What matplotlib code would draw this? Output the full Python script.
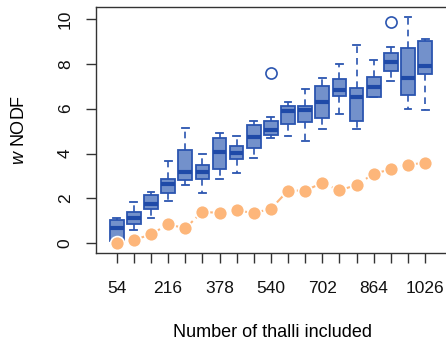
import matplotlib
matplotlib.use("Agg")
import matplotlib.pyplot as plt
import numpy as np

# ---- data ----
n_thalli = [54 * i for i in range(1, 20)]
tick_labels_shown = ["54", "216", "378", "540", "702", "864", "1026"]

whisk_lo = [0.08, 0.59, 1.13, 1.89, 2.59, 2.26, 2.88, 3.15, 3.80, 4.68, 4.78, 4.56, 5.10, 5.78, 5.10, 6.50, 7.25, 5.99, 5.96]
q1       = [0.12, 0.87, 1.54, 2.24, 2.81, 2.88, 3.31, 3.77, 4.24, 4.83, 5.33, 5.41, 5.59, 6.57, 5.47, 6.52, 7.70, 6.63, 7.56]
median   = [0.67, 1.11, 1.75, 2.63, 3.17, 3.18, 4.07, 4.01, 4.74, 5.05, 5.88, 5.94, 6.29, 6.82, 6.54, 6.97, 8.10, 7.38, 7.90]
q3       = [1.02, 1.38, 2.17, 2.87, 4.15, 3.51, 4.68, 4.35, 5.27, 5.44, 6.12, 6.13, 7.03, 7.31, 6.91, 7.43, 8.50, 8.71, 9.00]
whisk_hi = [1.14, 1.85, 2.27, 3.68, 5.14, 4.00, 4.93, 4.78, 5.45, 5.62, 6.31, 6.88, 7.37, 7.99, 8.83, 8.17, 8.74, 10.10, 9.11]
outliers = {10: [7.58], 17: [9.84]}

null_values = [0.02, 0.15, 0.40, 0.85, 0.67, 1.41, 1.35, 1.47, 1.35, 1.54,
               2.35, 2.35, 2.69, 2.36, 2.60, 3.10, 3.30, 3.50, 3.59]

# ---- style ----
plt.rcParams['font.family'] = ['Liberation Sans', 'DejaVu Sans']
plt.rcParams['mathtext.fontset'] = 'custom'
plt.rcParams['mathtext.it'] = 'Liberation Sans:italic'
plt.rcParams['mathtext.rm'] = 'Liberation Sans'

box_fill = '#7391CB'
box_edge = '#2B55B0'
med_col = '#1F4AA8'
orange = '#FDB67A'

fig = plt.figure(figsize=(4.46, 3.42), dpi=100)
ax = fig.add_axes([96/446, 1 - 253/342, (448.2 - 96)/446, (253 - 7)/342])

positions = np.arange(1, len(n_thalli) + 1)
stats = []
for i in range(len(n_thalli)):
    stats.append(dict(med=median[i], q1=q1[i], q3=q3[i], whislo=whisk_lo[i],
                      whishi=whisk_hi[i], fliers=outliers.get(i + 1, [])))

ax.bxp(stats, positions=positions, widths=0.8, patch_artist=True,
       boxprops=dict(facecolor=box_fill, edgecolor=box_edge, linewidth=1.3),
       medianprops=dict(color=med_col, linewidth=3, solid_capstyle='butt'),
       whiskerprops=dict(color=box_edge, linewidth=1.2, linestyle=(0, (4, 3))),
       capprops=dict(color=box_edge, linewidth=1.3),
       capwidths=0.4,
       flierprops=dict(marker='o', markerfacecolor='none', markeredgecolor=box_edge,
                       markersize=8, markeredgewidth=1.2),
       zorder=2)

ax.plot(positions, null_values, color=orange, linestyle=(0, (4, 2)), linewidth=1.5,
        marker='o', markersize=10, markerfacecolor=orange, markeredgecolor='white',
        markeredgewidth=1.2, zorder=3)

ax.set_xlim(-0.21, 20.35)
ax.set_ylim(-0.43, 10.53)

ax.set_xticks(positions)
ax.set_xticklabels([tick_labels_shown[(i) // 3] if i % 3 == 0 else '' for i in range(len(positions))])
ax.set_yticks([0, 2, 4, 6, 8, 10])
ax.set_yticklabels(['0', '2', '4', '6', '8', '10'], rotation=90, va='center')

ax.tick_params(axis='both', direction='out', length=7.2, width=1, color='#333333',
               labelsize=12.5, colors='#111111')
ax.tick_params(axis='x', pad=13)
ax.tick_params(axis='y', pad=9.5)
for s in ['left', 'bottom', 'top', 'right']:
    ax.spines[s].set_color('#333333')
    ax.spines[s].set_linewidth(1)

ax.set_xlabel('Number of thalli included', fontsize=13, labelpad=20)
ax.set_ylabel(r'$\it{w}$ NODF', fontsize=13, labelpad=21.5)

fig.savefig('out.png', dpi=100)
